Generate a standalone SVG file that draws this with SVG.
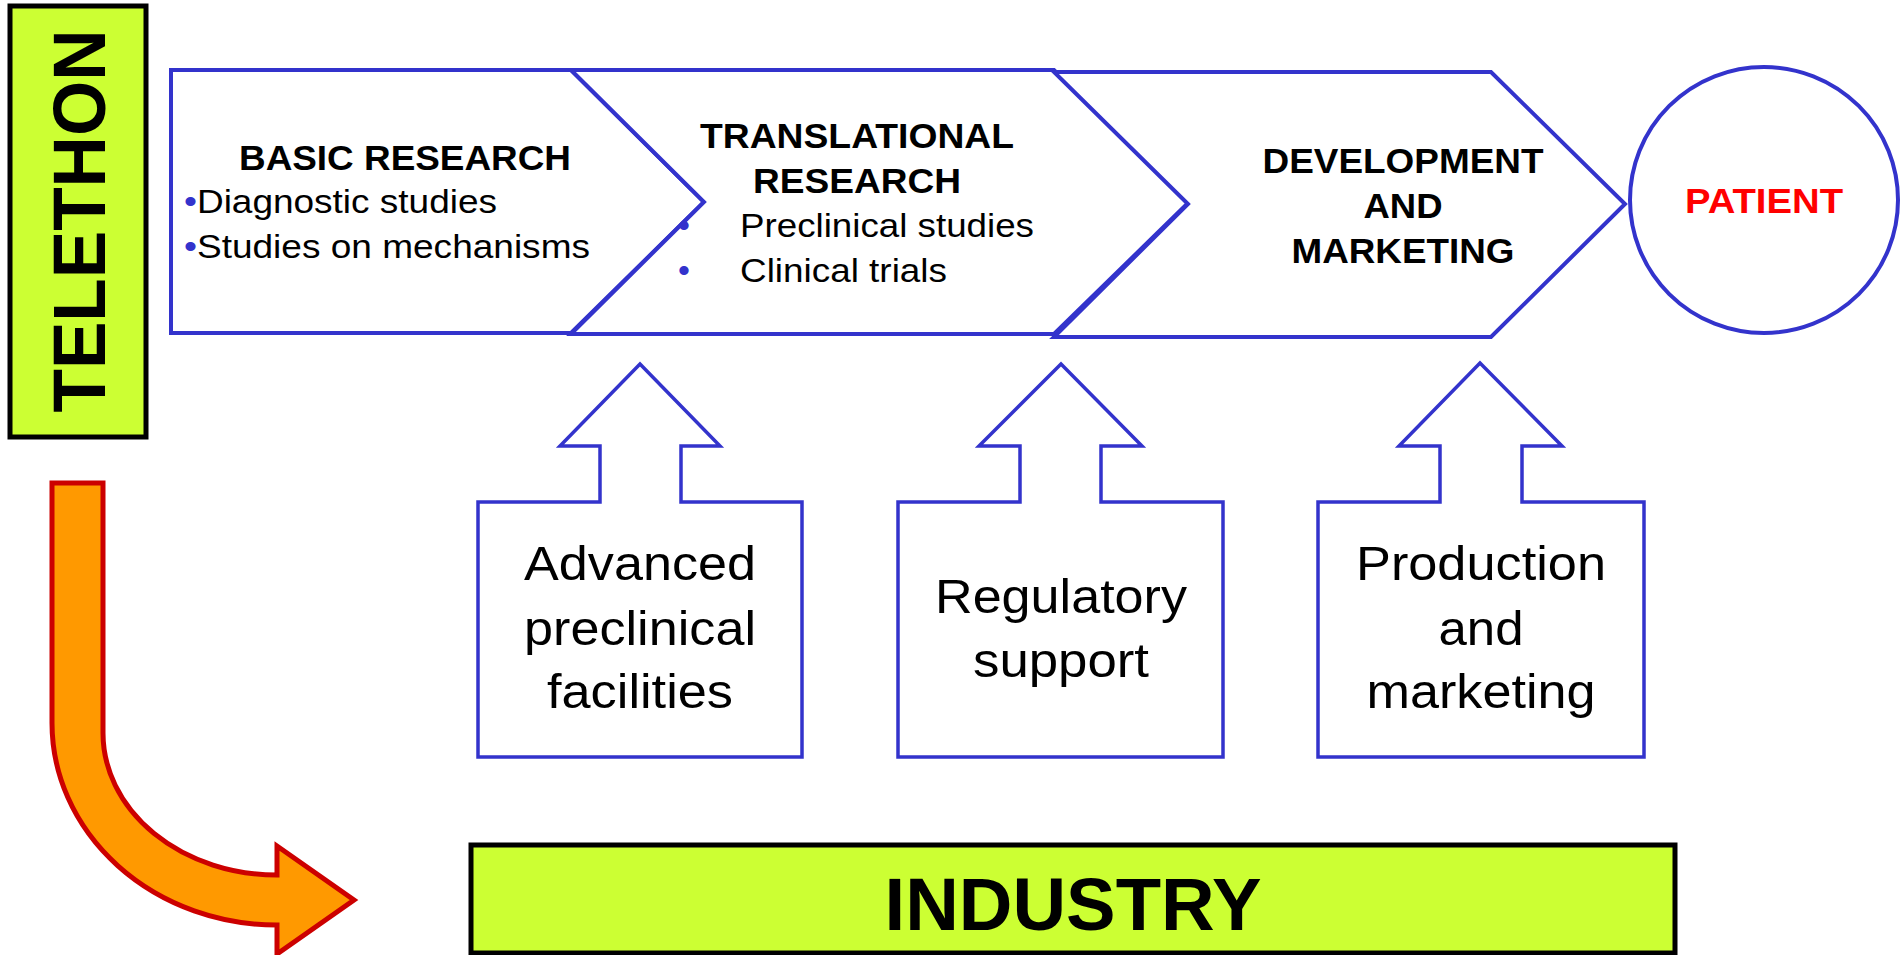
<svg xmlns="http://www.w3.org/2000/svg" width="1903" height="955" viewBox="0 0 1903 955">
  <style>
    .stage { fill: #ffffff; stroke: #3333cc; stroke-width: 4; stroke-linejoin: miter; }
    .support { fill: #ffffff; stroke: #3333cc; stroke-width: 3.5; stroke-linejoin: miter; }
    .lime { fill: #ccff33; stroke: #000000; stroke-width: 5; }
    .head { font-family: "Liberation Sans", Arial, sans-serif; font-weight: bold; font-size: 35px; fill: #000000; }
    .item { font-family: "Liberation Sans", Arial, sans-serif; font-size: 34px; fill: #000000; }
    .big { font-family: "Liberation Sans", Arial, sans-serif; font-size: 49px; fill: #000000; text-anchor: middle; }
    .dot { fill: #3333cc; }
    .mid { text-anchor: middle; }
  </style>

  <rect x="0" y="0" width="1903" height="955" fill="#ffffff"/>

  <!-- Funding source -->
  <g id="telethon">
    <rect class="lime" x="10" y="6" width="136" height="431"/>
    <text class="head" style="font-size:74px" text-anchor="middle" textLength="383" lengthAdjust="spacingAndGlyphs" transform="translate(105,221) rotate(-90)">TELETHON</text>
  </g>

  <!-- Pipeline stages -->
  <g id="basic-research">
    <path class="stage" d="M171 70 L571 70 L704 202 L571 333 L171 333 Z"/>
    <text class="head mid" x="405" y="170" textLength="332" lengthAdjust="spacingAndGlyphs">BASIC RESEARCH</text>
    <text class="item" x="184" y="213" textLength="313" lengthAdjust="spacingAndGlyphs"><tspan class="dot">•</tspan>Diagnostic studies</text>
    <text class="item" x="184" y="258" textLength="406" lengthAdjust="spacingAndGlyphs"><tspan class="dot">•</tspan>Studies on mechanisms</text>
  </g>

  <g id="translational-research">
    <path class="stage" d="M571 70 L1054 70 L1188 203 L1054 334 L571 334 L704 202 Z"/>
    <text class="head mid" x="857" y="148" textLength="314" lengthAdjust="spacingAndGlyphs">TRANSLATIONAL</text>
    <text class="head mid" x="857" y="193" textLength="208" lengthAdjust="spacingAndGlyphs">RESEARCH</text>
    <text class="item dot" x="678" y="237">•</text>
    <text class="item dot" x="678" y="282">•</text>
    <text class="item" x="740" y="237" textLength="294" lengthAdjust="spacingAndGlyphs">Preclinical studies</text>
    <text class="item" x="740" y="282" textLength="207" lengthAdjust="spacingAndGlyphs">Clinical trials</text>
  </g>

  <g id="development-marketing">
    <path class="stage" d="M1054 72 L1491 72 L1625 204 L1491 337 L1054 337 L1188 204 Z"/>
    <text class="head mid" x="1403" y="173" textLength="281" lengthAdjust="spacingAndGlyphs">DEVELOPMENT</text>
    <text class="head mid" x="1403" y="218" textLength="79" lengthAdjust="spacingAndGlyphs">AND</text>
    <text class="head mid" x="1403" y="263" textLength="223" lengthAdjust="spacingAndGlyphs">MARKETING</text>
  </g>

  <g id="patient">
    <ellipse class="stage" cx="1764" cy="200" rx="134" ry="133"/>
    <text class="head mid" x="1764" y="213" style="fill:#ff0000" textLength="158" lengthAdjust="spacingAndGlyphs">PATIENT</text>
  </g>

  <!-- Supporting services pushing up into the pipeline -->
  <g id="preclinical-facilities">
    <path class="support" d="M478 502 L600 502 L600 446 L560 446 L640 364 L720 446 L681 446 L681 502 L802 502 L802 757 L478 757 Z"/>
    <text class="big" x="640" y="580" textLength="232" lengthAdjust="spacingAndGlyphs">Advanced</text>
    <text class="big" x="640" y="645" textLength="232" lengthAdjust="spacingAndGlyphs">preclinical</text>
    <text class="big" x="640" y="708" textLength="186" lengthAdjust="spacingAndGlyphs">facilities</text>
  </g>

  <g id="regulatory-support">
    <path class="support" d="M898 502 L1020 502 L1020 446 L979 446 L1061 364 L1142 446 L1101 446 L1101 502 L1223 502 L1223 757 L898 757 Z"/>
    <text class="big" x="1061" y="613" textLength="252" lengthAdjust="spacingAndGlyphs">Regulatory</text>
    <text class="big" x="1061" y="677" textLength="176" lengthAdjust="spacingAndGlyphs">support</text>
  </g>

  <g id="production-marketing">
    <path class="support" d="M1318 502 L1440 502 L1440 446 L1399 446 L1480 363 L1562 446 L1522 446 L1522 502 L1644 502 L1644 757 L1318 757 Z"/>
    <text class="big" x="1481" y="580" textLength="250" lengthAdjust="spacingAndGlyphs">Production</text>
    <text class="big" x="1481" y="645" textLength="85" lengthAdjust="spacingAndGlyphs">and</text>
    <text class="big" x="1481" y="708" textLength="229" lengthAdjust="spacingAndGlyphs">marketing</text>
  </g>

  <g id="industry">
    <rect class="lime" x="471" y="845" width="1204" height="108"/>
    <text class="head mid" x="1073" y="930" style="font-size:75px" textLength="377" lengthAdjust="spacingAndGlyphs">INDUSTRY</text>
  </g>

  <!-- Transfer from Telethon to industry -->
  <g id="connectors">
    <path d="M52 483 L103 483 L103 733 A174 142 0 0 0 277 875 L277 846 L354 900 L277 954 L277 925 A225 202 0 0 1 52 723 Z" fill="#ff9900" stroke="#cc0000" stroke-width="5" stroke-linejoin="miter"/>
  </g>
</svg>
